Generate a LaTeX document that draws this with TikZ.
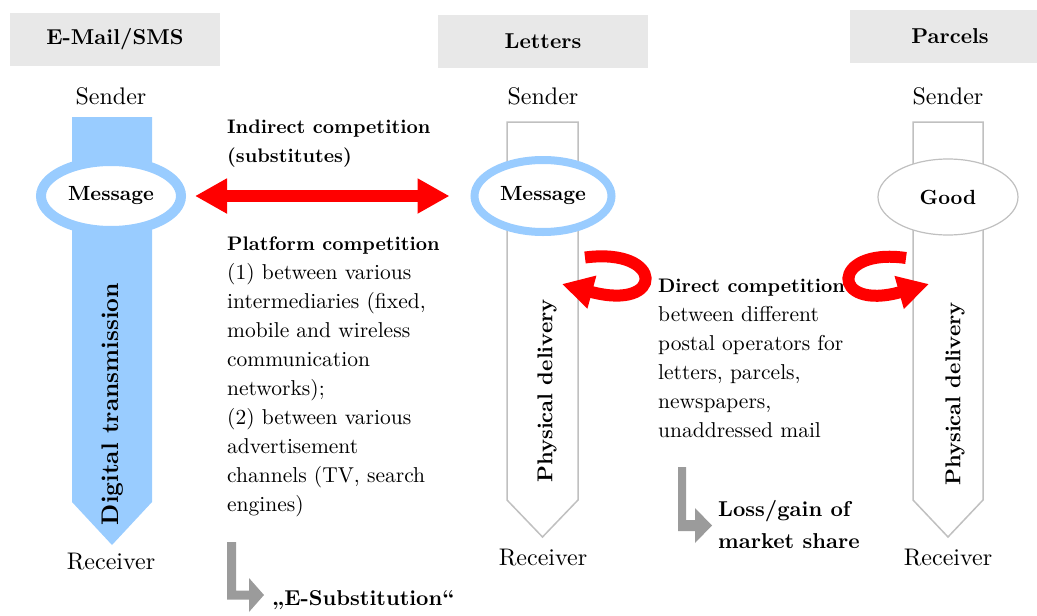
\documentclass[tikz,border=0pt]{standalone}
\usepackage{fontspec}
\setmainfont{lmroman10-regular.otf}[BoldFont=lmroman10-bold.otf, ItalicFont=lmroman10-italic.otf, BoldItalicFont=lmroman10-bolditalic.otf]
\usetikzlibrary{shapes.geometric,arrows.meta}
\definecolor{lblue}{HTML}{99CCFF}
\definecolor{hdrgrey}{HTML}{E8E8E8}
\definecolor{outl}{HTML}{C0C0C0}
\definecolor{larr}{HTML}{9B9B9B}
\definecolor{ared}{HTML}{FF0000}
\newcommand{\bb}[1]{{\fontsize{19.6}{29}\selectfont\bfseries #1}}
\newcommand{\blk}[1]{\begin{tabular}[t]{@{}l@{}}#1\end{tabular}}
\begin{document}
\begin{tikzpicture}[x=1pt,y=-1pt,
  hdr/.style={fill=hdrgrey, minimum width=210pt, minimum height=53pt, inner sep=0pt,
    font=\fontsize{21.5}{25}\selectfont\bfseries},
  sr/.style={font=\fontsize{24}{28}\selectfont, inner sep=0pt},
  body/.style={anchor=base west, inner sep=0pt, font=\fontsize{21.5}{29}\selectfont},
  big/.style={anchor=base west, inner sep=0pt, font=\fontsize{21.5}{32}\selectfont\bfseries},
  vlab/.style={rotate=90, inner sep=0pt},
  msg/.style={ellipse, fill=white, inner sep=0pt, font=\fontsize{20.5}{24}\selectfont\bfseries},
  redarc/.style={draw=ared, line width=12pt, -{Triangle[length=31pt,width=32pt]}},
  lshape/.style={fill=larr, draw=none},
  tube/.style={draw=outl, line width=1.5pt, fill=white}
]
\useasboundingbox (0,0) rectangle (1037,616);

% headers
\node[hdr] (h1) at (115,39) {E-Mail/SMS};
\node[hdr] (h2) at (543,41.5) {Letters};
\node[hdr, minimum width=187pt] (h3) at (943.5,36.5) {\hspace*{13pt}Parcels};

% senders
\node[sr] (s1) at (111,96) {Sender};
\node[sr] (s2) at (543,96) {Sender};
\node[sr] (s3) at (948,96) {Sender};

% bodies
\fill[lblue] (72,117) -- (152,117) -- (152,502) -- (112,545) -- (72,502) -- cycle;
\draw[tube] (507,122) -- (578,122) -- (578,500) -- (542.5,537) -- (507,500) -- cycle;
\draw[tube] (913,122) -- (983,122) -- (983,500) -- (948,537) -- (913,500) -- cycle;

% vertical labels
\node[vlab, font=\fontsize{24}{28}\selectfont\bfseries] (v1) at (113,404) {Digital transmission};
\node[vlab, font=\fontsize{21.5}{26}\selectfont\bfseries] (v2) at (547,391) {Physical delivery};
\node[vlab, font=\fontsize{21.5}{26}\selectfont\bfseries] (v3) at (955,394) {Physical delivery};

% ellipses
\node[msg, draw=lblue, line width=10pt, minimum width=140pt, minimum height=70pt] (m1) at (111,196) {Message};
\node[msg, draw=lblue, line width=8pt, minimum width=137pt, minimum height=72pt] (m2) at (543,196) {Message};
\node[msg, draw=outl, line width=1.2pt, minimum width=140pt, minimum height=76pt] (m3) at (948,197) {Good};

% receivers
\node[sr] (r1) at (111,562) {Receiver};
\node[sr] (r2) at (543,558) {Receiver};
\node[sr] (r3) at (948,558) {Receiver};

% double red arrow
\coordinate (da) at ([xshift=9pt]m1.east);
\coordinate (db) at ([xshift=-21pt]m2.west);
\draw[draw=ared, line width=12pt, {Triangle[length=32pt,width=33pt]}-{Triangle[length=32pt,width=33pt]}] (da) -- (db);

% curved arrows
\coordinate (ca1) at (585,257.5);
\coordinate (ct1) at (562,284);
\draw[redarc] (ca1) .. controls (665,247) and (665,312) .. (ct1);
\coordinate (ca2) at (906,258);
\coordinate (ct2) at (929,284);
\draw[redarc] (ca2) .. controls (830,247) and (830,312) .. (ct2);

% texts
\node[body] (t1) at (227,133) {\blk{\bb{Indirect competition}\\\bb{(substitutes)}}};
\node[body] (t2) at (227,250) {\blk{\bb{Platform competition}\\(1) between various\\intermediaries (fixed,\\mobile and wireless\\communication\\networks);\\(2) between various\\advertisement\\channels (TV, search\\engines)}};
\node[body] (t3) at (658,292) {\blk{\bb{Direct competition}\\between different\\postal operators for\\letters, parcels,\\newspapers,\\unaddressed mail}};

% grey L arrows
\fill[lshape] (227,542) -- (236,542) -- (236,590.5) -- (249,590.5) -- (249,578) -- (264,595) -- (249,612) -- (249,599.5) -- (227,599.5) -- cycle;
\fill[lshape] (678,467) -- (686,467) -- (686,520) -- (695,520) -- (695,508) -- (712,525.5) -- (695,543) -- (695,531) -- (678,531) -- cycle;

\node[big] (t4) at (718,516) {\blk{Loss/gain of\\market share}};
\node[big] (t5) at (272,605) {„E-Substitution“};
\end{tikzpicture}
\end{document}
